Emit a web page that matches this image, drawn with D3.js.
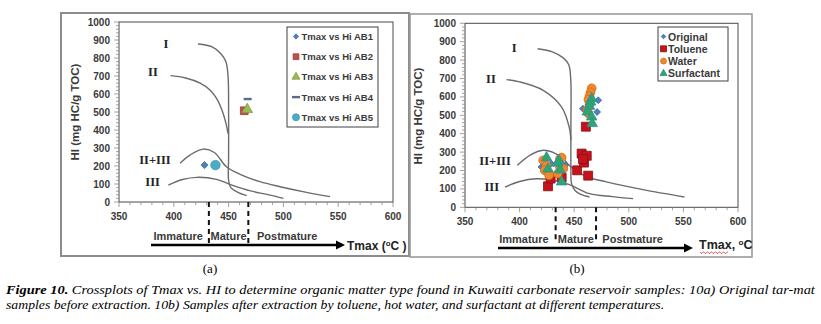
<!DOCTYPE html>
<html>
<head>
<meta charset="utf-8">
<script src="https://cdn.jsdelivr.net/npm/d3@7/dist/d3.min.js"></script>
<style>
  body { margin: 0; background: #fff; }
  svg { display: block; }
</style>
</head>
<body>
<svg id="fig" width="821" height="324"></svg>
<script>
// ---------- axis ticks ----------
const xTickValues = [350, 400, 450, 500, 550, 600];
const yTickValues = [0, 100, 200, 300, 400, 500, 600, 700, 800, 900, 1000];

// ---------- kerogen type envelopes, panel (a)  [Tmax, HI] ----------
const curveIA   = [[422, 878], [435, 862], [443, 824], [447.5, 780], [449.5, 700], [450, 500], [450, 250], [450, 120], [452, 80], [458, 55], [466.5, 35]];
const curveIIA  = [[397, 702], [410, 690], [424, 660], [433, 622], [439, 576], [444, 510], [447.6, 437], [449.5, 380]];
const curveIIIIA = [[405.7, 215], [415, 262], [427, 294], [437, 275], [448, 196], [460, 155], [478.6, 113], [497, 85], [520, 55], [542.5, 30]];
const curveIIIA = [[395, 94], [408, 125], [421, 137], [439, 126], [453, 94], [470, 62], [485, 42], [500, 20]];

// ---------- kerogen type envelopes, panel (b) ----------
const curveIB   = [[416.5, 862], [430, 845], [440, 812], [445, 775], [446.8, 700], [447, 450], [447, 200], [447.5, 130], [451, 90], [456, 70], [464, 56]];
const curveIIB  = [[388, 694], [400, 682], [421.6, 636], [438.5, 545], [445.4, 436], [447, 364]];
const curveIIIIB = [[397.9, 228], [410, 285], [421.6, 310], [432, 295], [440, 264], [446, 225], [460, 170], [479.6, 138], [513, 96], [551, 56]];
const curveIIIB = [[386.6, 110], [400, 140], [415, 155], [430, 148], [445, 125], [464, 74], [485, 58], [504, 47]];

const curveNames = ["I", "II", "II+III", "III"];
// label anchor points [Tmax, HI]
const curveLabelsA = [[392.9, 878], [381, 722], [382.8, 233], [380.7, 113]];
const curveLabelsB = [[395.1, 867], [373.8, 696], [377.5, 253], [374.5, 109]];

// ---------- maturity windows ----------
const maturityBoundsA = [432, 468];
const maturityBoundsB = [433, 470];
const maturityNames = ["Immature", "Mature", "Postmature"];

// ---------- panel (a): original tar-mat samples ----------
const seriesNamesA = ["Tmax vs Hi AB1", "Tmax vs Hi AB2", "Tmax vs Hi AB3", "Tmax vs Hi AB4", "Tmax vs Hi AB5"];
const ab1Tmax = [428], ab1HI = [205];
const ab2Tmax = [464.3], ab2HI = [507];
const ab3Tmax = [467], ab3HI = [514];
const ab4Tmax = [467.4], ab4HI = [572];
const ab5Tmax = [438], ab5HI = [205];

// ---------- panel (b): samples after extraction ----------
const seriesNamesB = ["Original", "Toluene", "Water", "Surfactant"];
const originalTmax = [420, 429, 441.5, 440, 458, 471, 472];
const originalHI   = [219, 237, 228, 201, 536, 518, 582];
const tolueneTmax  = [426, 428.4, 438.5, 452.7, 462.8, 459, 456.8, 461.5, 458, 460.7];
const tolueneHI    = [114, 156, 161, 201, 172, 243, 292, 280, 262, 438];
const waterTmax    = [421.6, 424.7, 423, 427, 437, 438.5, 437, 440, 435, 466, 465, 464, 463, 464, 462, 463];
const waterHI      = [255, 228, 201, 174, 264, 270, 219, 210, 183, 647, 625, 605, 585, 560, 530, 510];
const surfactantTmax = [424.7, 426, 436, 435, 437, 438.5, 466, 465, 464, 462, 466, 466.5];
const surfactantHI   = [270, 208, 255, 240, 203, 138, 590, 572, 549, 518, 491, 455];

const zip = (xs, ys) => xs.map((v, i) => [v, ys[i]]);

const svg = d3.select("#fig");
const SANS = "'Liberation Sans', Arial, sans-serif";
const SERIF = "'Liberation Serif', 'Times New Roman', serif";

function drawPanel(cfg) {
  const g = svg.append("g");
  const [fx0, fy0, fx1, fy1] = cfg.frame;
  g.append("rect").attr("x", fx0).attr("y", fy0)
    .attr("width", fx1 - fx0).attr("height", fy1 - fy0)
    .attr("fill", "#fff").attr("stroke", cfg.frameColor).attr("stroke-width", cfg.frameWidth);

  const x = d3.scaleLinear().domain([350, 600]).range([cfg.left, cfg.right]);
  const y = d3.scaleLinear().domain([0, 1000]).range([cfg.bottom, cfg.top]);

  // plot area
  g.append("rect").attr("x", cfg.left).attr("y", cfg.top)
    .attr("width", cfg.right - cfg.left).attr("height", cfg.bottom - cfg.top)
    .attr("fill", "none").attr("stroke", "#4a4a4a").attr("stroke-width", 1);

  // y ticks
  g.append("g").selectAll("line").data(d3.range(0, 1001, 20)).join("line")
    .attr("x1", d => cfg.left - (d % 100 === 0 ? 5 : 3)).attr("x2", cfg.left)
    .attr("y1", d => y(d)).attr("y2", d => y(d))
    .attr("stroke", "#8a8a8a").attr("stroke-width", 0.8);
  g.append("g").selectAll("text").data(yTickValues).join("text")
    .attr("x", cfg.left - 9).attr("y", d => y(d))
    .attr("text-anchor", "end").attr("dominant-baseline", "central")
    .attr("font-family", SANS).attr("font-weight", "bold").attr("font-size", 10)
    .attr("fill", "#3a3a3a").text(d => d);

  // x ticks
  g.append("g").selectAll("line").data(d3.range(350, 601, 10)).join("line")
    .attr("x1", d => x(d)).attr("x2", d => x(d))
    .attr("y1", cfg.bottom).attr("y2", d => cfg.bottom + (d % 50 === 0 ? 5 : 3))
    .attr("stroke", "#8a8a8a").attr("stroke-width", 0.8);
  g.append("g").selectAll("text").data(xTickValues).join("text")
    .attr("x", d => x(d)).attr("y", cfg.bottom + cfg.xLabelGap)
    .attr("text-anchor", "middle").attr("dominant-baseline", "central")
    .attr("font-family", SANS).attr("font-weight", "bold").attr("font-size", 10)
    .attr("fill", "#3a3a3a").text(d => d);

  // axis title
  g.append("text")
    .attr("transform", `translate(${cfg.yTitle[0]},${cfg.yTitle[1]}) rotate(-90)`)
    .attr("text-anchor", "middle").attr("dominant-baseline", "central")
    .attr("font-family", SANS).attr("font-weight", "bold").attr("font-size", 11.5)
    .attr("fill", "#3a3a3a").text("HI  (mg HC/g TOC)");

  // kerogen envelopes
  const line = d3.line().x(d => x(d[0])).y(d => y(d[1])).curve(d3.curveCatmullRom.alpha(0.5));
  g.append("g").selectAll("path").data(cfg.curves).join("path")
    .attr("d", line).attr("fill", "none")
    .attr("stroke", "#6b6b6b").attr("stroke-width", 1.4);
  g.append("g").selectAll("text").data(cfg.curveLabels).join("text")
    .attr("x", d => x(d[0])).attr("y", d => y(d[1]))
    .attr("text-anchor", "middle").attr("dominant-baseline", "central")
    .attr("font-family", SERIF).attr("font-weight", "bold").attr("font-size", 12.5)
    .attr("fill", "#222").text((d, i) => curveNames[i]);

  // maturity windows
  g.append("g").selectAll("line").data(cfg.bounds).join("line")
    .attr("x1", d => x(d)).attr("x2", d => x(d))
    .attr("y1", cfg.bottom).attr("y2", 243)
    .attr("stroke", "#111").attr("stroke-width", 2).attr("stroke-dasharray", "5,4");
  const matX = [404, (cfg.bounds[0] + cfg.bounds[1]) / 2, 503.5];
  g.append("g").selectAll("text").data(maturityNames).join("text")
    .attr("x", (d, i) => x(matX[i])).attr("y", cfg.matY)
    .attr("text-anchor", "middle").attr("dominant-baseline", "central")
    .attr("font-family", SANS).attr("font-weight", "bold").attr("font-size", 11)
    .attr("fill", "#3a3a3a").text(d => d);

  // Tmax arrow
  const [ax0, ax1, ay] = cfg.arrow;
  g.append("line").attr("x1", ax0).attr("x2", ax1 - 6).attr("y1", ay).attr("y2", ay)
    .attr("stroke", "#000").attr("stroke-width", 2.6);
  g.append("path").attr("d", `M${ax1},${ay} L${ax1 - 9},${ay - 4.5} L${ax1 - 9},${ay + 4.5} Z`)
    .attr("fill", "#000");
  const t = g.append("text").attr("x", cfg.tmaxText[0]).attr("y", cfg.tmaxText[1])
    .attr("font-family", SANS).attr("font-weight", "bold").attr("font-size", cfg.tmaxSize)
    .attr("fill", "#222");
  cfg.tmaxParts.forEach(p => {
    const ts = t.append("tspan").text(p.s);
    if (p.sup) ts.attr("font-size", cfg.tmaxSize * 0.65).attr("dy", -4);
    if (p.down) ts.attr("dy", 4);
  });

  // panel letter
  g.append("text").attr("x", cfg.letter[0]).attr("y", cfg.letter[1])
    .attr("text-anchor", "middle").attr("dominant-baseline", "central")
    .attr("font-family", SERIF).attr("font-size", 13).attr("fill", "#000")
    .text(cfg.letter[2]);

  return { g, x, y };
}

function marker(sel, type, size, fill, stroke) {
  if (type === "dash") {
    sel.append("rect").attr("x", -4).attr("y", -1.2).attr("width", 8).attr("height", 2.4)
      .attr("fill", fill);
    return;
  }
  sel.append("path").attr("d", d3.symbol().type(type).size(size)())
    .attr("fill", fill).attr("stroke", stroke).attr("stroke-width", 0.8);
}

// ===== panel (a) =====
const A = drawPanel({
  frame: [61, 13, 409, 256], frameColor: "#8c8c8c", frameWidth: 2,
  left: 119, right: 393, bottom: 202, top: 22, xLabelGap: 14.5,
  yTitle: [75, 112],
  curves: [curveIA, curveIIA, curveIIIIA, curveIIIA], curveLabels: curveLabelsA,
  bounds: maturityBoundsA, matY: 236,
  arrow: [151, 345, 245], tmaxText: [347, 249.5], tmaxSize: 12,
  tmaxParts: [{ s: "Tmax (" }, { s: "o", sup: true }, { s: "C )", down: true }],
  letter: [210, 268, "(a)"]
});

const stylesA = [
  { type: d3.symbolDiamond2, size: 32, fill: "#4f81bd", stroke: "#3f6ea6" },
  { type: d3.symbolSquare,  size: 60, fill: "#c0504d", stroke: "#a03a37" },
  { type: d3.symbolTriangle, size: 50, fill: "#9bbb59", stroke: "#7e9d42" },
  { type: "dash", size: 0, fill: "#5b6b84", stroke: "none" },
  { type: d3.symbolCircle,  size: 70, fill: "#4bacc6", stroke: "#3a97b0" }
];
const dataA = [zip(ab1Tmax, ab1HI), zip(ab2Tmax, ab2HI), zip(ab3Tmax, ab3HI), zip(ab4Tmax, ab4HI), zip(ab5Tmax, ab5HI)];
dataA.forEach((pts, i) => {
  const st = stylesA[i];
  pts.forEach(p => {
    marker(A.g.append("g").attr("transform", `translate(${A.x(p[0])},${A.y(p[1])})`),
      st.type, st.size, st.fill, st.stroke);
  });
});

// legend (a)
const legA = A.g.append("g");
legA.append("rect").attr("x", 287).attr("y", 27).attr("width", 91).attr("height", 100)
  .attr("fill", "#fff").attr("stroke", "#404040").attr("stroke-width", 1);
seriesNamesA.forEach((name, i) => {
  const yy = 36.5 + i * 20.2;
  const st = stylesA[i];
  marker(legA.append("g").attr("transform", `translate(296,${yy})`),
    st.type, st.size * 0.55, st.fill, st.stroke);
  legA.append("text").attr("x", 301.5).attr("y", yy).attr("dominant-baseline", "central")
    .attr("font-family", SANS).attr("font-weight", "bold").attr("font-size", 9.5)
    .attr("fill", "#3a3a3a").text(name);
});

// ===== panel (b) =====
const B = drawPanel({
  frame: [410, 14, 752, 257], frameColor: "#9a9a9a", frameWidth: 1.6,
  left: 465, right: 738, bottom: 207.3, top: 23.3, xLabelGap: 14,
  yTitle: [418, 116],
  curves: [curveIB, curveIIB, curveIIIIB, curveIIIB], curveLabels: curveLabelsB,
  bounds: maturityBoundsB, matY: 238.5,
  arrow: [498, 693, 248], tmaxText: [699, 249], tmaxSize: 12.5,
  tmaxParts: [{ s: "Tmax, " }, { s: "o", sup: true }, { s: "C", down: true }],
  letter: [577, 268, "(b)"]
});

// spell-check squiggle under "Tmax"
{
  let d = "M700,252";
  for (let k = 0; k < 14; k++) d += ` l1,${k % 2 ? -1.4 : 1.4} l1,0`;
  B.g.append("path").attr("d", d).attr("fill", "none").attr("stroke", "#e03030").attr("stroke-width", 0.7);
}

const stylesB = [
  { type: d3.symbolDiamond2, size: 30, fill: "#4f81bd", stroke: "#3a6aa8" },
  { type: d3.symbolSquare,  size: 80, fill: "#c3141e", stroke: "#8e0d14" },
  { type: d3.symbolCircle,  size: 60, fill: "#ef8a2c", stroke: "#d06a10" },
  { type: d3.symbolTriangle, size: 48, fill: "#2fa66a", stroke: "#2a8fa0" }
];
const dataB = [zip(originalTmax, originalHI), zip(tolueneTmax, tolueneHI), zip(waterTmax, waterHI), zip(surfactantTmax, surfactantHI)];
dataB.forEach((pts, i) => {
  const st = stylesB[i];
  pts.forEach(p => {
    marker(B.g.append("g").attr("transform", `translate(${B.x(p[0])},${B.y(p[1])})`),
      st.type, st.size, st.fill, st.stroke);
  });
});

// legend (b)
const legB = B.g.append("g");
legB.append("rect").attr("x", 658).attr("y", 27).attr("width", 70).attr("height", 54)
  .attr("fill", "#fff").attr("stroke", "#404040").attr("stroke-width", 1);
seriesNamesB.forEach((name, i) => {
  const yy = 36.5 + i * 12.3;
  const st = stylesB[i];
  marker(legB.append("g").attr("transform", `translate(663.5,${yy})`),
    st.type, st.size * 0.45, st.fill, st.stroke);
  legB.append("text").attr("x", 668).attr("y", yy).attr("dominant-baseline", "central")
    .attr("font-family", SANS).attr("font-weight", "bold").attr("font-size", 10.5)
    .attr("fill", "#3a3a3a").text(name);
});

// ===== caption =====
const captionLines = [
  [{ s: "Figure 10.", b: true }, { s: " Crossplots of Tmax vs. HI to determine organic matter type found in Kuwaiti carbonate reservoir samples: 10a) Original tar-mat" }],
  [{ s: "samples before extraction. 10b) Samples after extraction by toluene, hot water, and surfactant at different temperatures." }]
];
const captionWidths = [809, 659];
const captionY = [294, 308.5];
captionLines.forEach((parts, li) => {
  const t = svg.append("text").attr("x", 0).attr("y", 0)
    .attr("font-family", SERIF).attr("font-style", "italic").attr("font-size", 13.5).attr("fill", "#000");
  parts.forEach(p => t.append("tspan").attr("font-weight", p.b ? "bold" : "normal").text(p.s));
  const w = t.node().getComputedTextLength();
  t.attr("transform", `translate(6,${captionY[li]}) scale(${captionWidths[li] / w},1)`);
});
</script>
</body>
</html>
